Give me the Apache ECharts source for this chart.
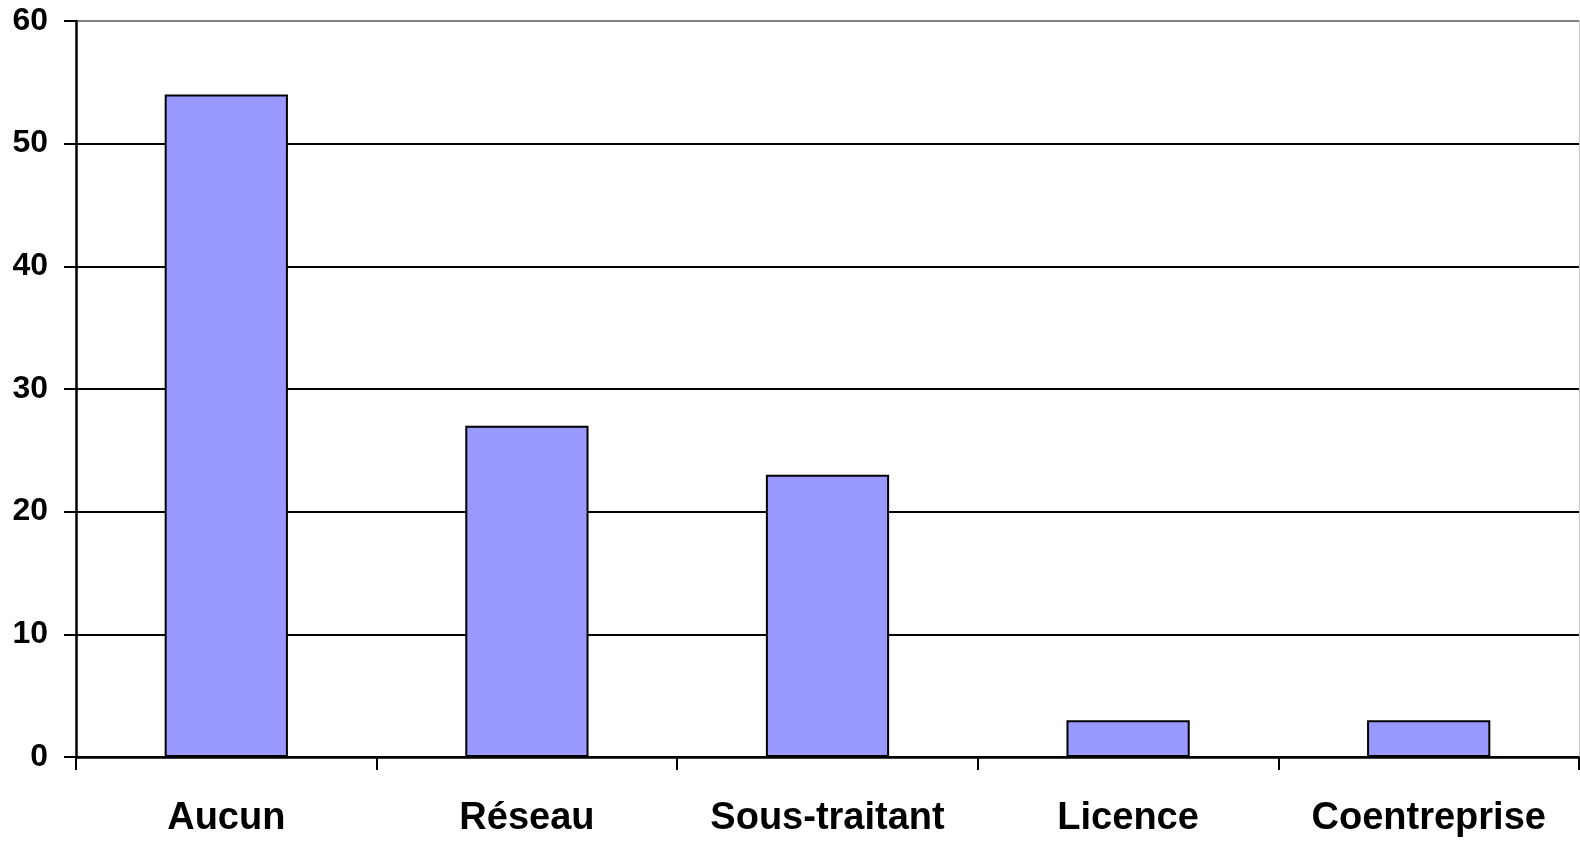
<!DOCTYPE html>
<html>
<head>
<meta charset="utf-8">
<script src="https://cdn.jsdelivr.net/npm/echarts@6/dist/echarts.min.js"></script>
<style>
html,body{margin:0;padding:0;background:#fff;}
#chart{width:1580px;height:841px;}
</style>
</head>
<body>
<div id="chart"></div>
<script>
const categories = ["Aucun", "Réseau", "Sous-traitant", "Licence", "Coentreprise"];
const values = [54, 27, 23, 3, 3];
const yTicks = [0, 10, 20, 30, 40, 50, 60];

const chart = echarts.init(document.getElementById('chart'), null, {renderer: 'canvas'});
const font = '"Liberation Sans", Arial, sans-serif';
chart.setOption({
  animation: false,
  backgroundColor: '#ffffff',
  grid: {left: 76, right: 1, top: 21, bottom: 84, containLabel: false, outerBoundsMode: 'none'},
  xAxis: {
    type: 'category',
    data: categories,
    boundaryGap: true,
    axisLine: {show: true, lineStyle: {color: '#000', width: 2.5}},
    axisTick: {show: true, length: 13, interval: 0, lineStyle: {color: '#000', width: 2}},
    axisLabel: {interval: 0, margin: 43, color: '#000', fontFamily: font, fontWeight: 'bold', fontSize: 38},
    splitLine: {show: false}
  },
  yAxis: [{
    type: 'value',
    min: yTicks[0],
    max: yTicks[yTicks.length - 1],
    interval: 10,
    axisLine: {show: true, lineStyle: {color: '#000', width: 2.5}},
    axisTick: {show: true, length: 12, inside: false, lineStyle: {color: '#000', width: 2}},
    axisLabel: {margin: 28, color: '#000', fontFamily: font, fontWeight: 'bold', fontSize: 32, padding: [5, 0, 0, 0]},
    splitLine: {show: true, lineStyle: {color: ['#000', '#000', '#000', '#000', '#000', '#000', '#808080'], width: 2}}
  }, {
    type: 'value',
    position: 'right',
    min: yTicks[0],
    max: yTicks[yTicks.length - 1],
    interval: 10,
    axisLine: {show: true, lineStyle: {color: '#c8c8c8', width: 1}},
    axisTick: {show: false},
    axisLabel: {show: false},
    splitLine: {show: false}
  }],
  series: [{
    type: 'bar',
    data: values,
    barWidth: '41%',
    itemStyle: {color: '#9999FF', borderColor: '#000', borderWidth: 2}
  }]
});
</script>
</body>
</html>
